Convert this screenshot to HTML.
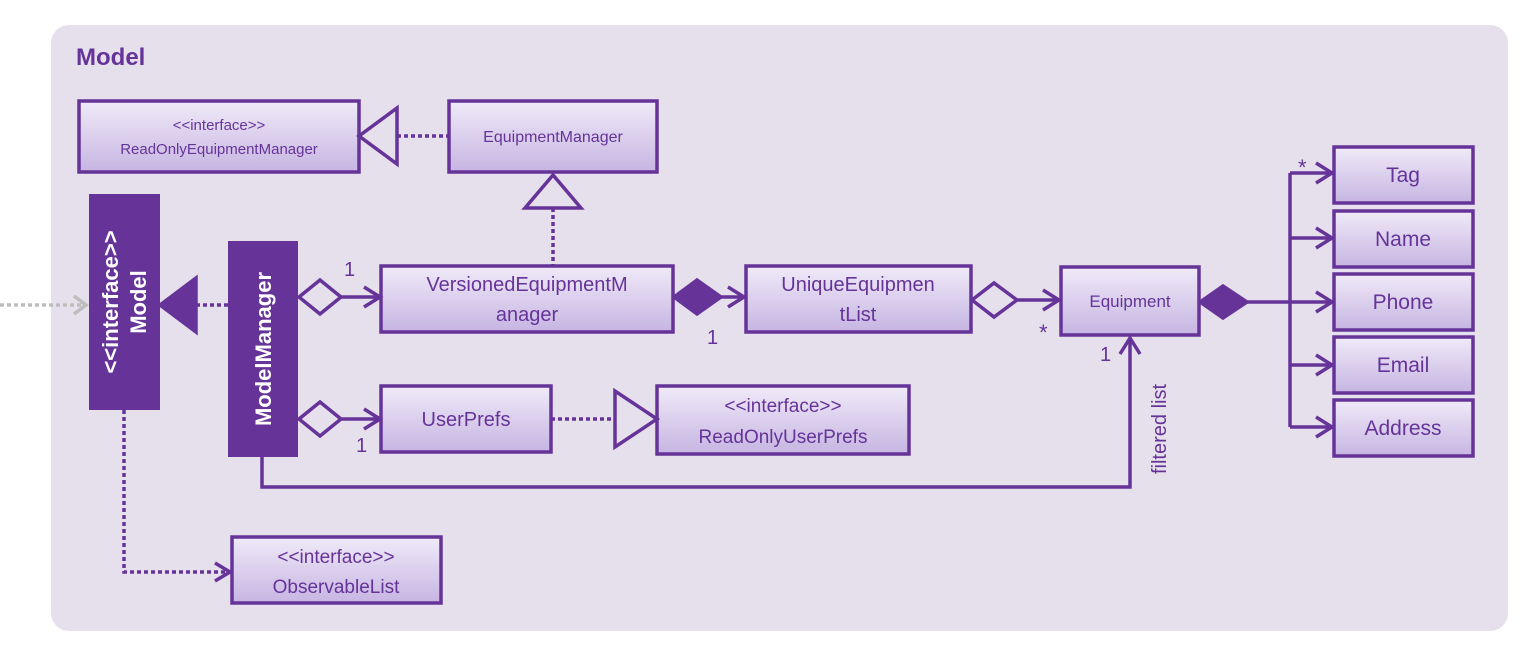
<!DOCTYPE html>
<html><head><meta charset="utf-8"><style>html,body{margin:0;padding:0;background:#fff}svg{display:block}text{font-family:"Liberation Sans",sans-serif;fill:#663399}</style></head><body>
<svg width="1526" height="650" viewBox="0 0 1526 650" xmlns="http://www.w3.org/2000/svg">
<defs><linearGradient id="g" x1="0" y1="0" x2="0" y2="1"><stop offset="0" stop-color="#F0EAF8"/><stop offset="1" stop-color="#C6B5E2"/></linearGradient></defs>
<rect x="51" y="25" width="1457" height="606" rx="18" fill="#E6E0EC"/>
<text x="76" y="65" font-size="24" font-weight="bold">Model</text>
<g stroke="#663399" stroke-width="3.5" fill="url(#g)">
<rect x="79" y="101" width="280" height="71"/>
<rect x="449" y="101" width="208" height="71"/>
<rect x="381" y="266" width="292" height="66"/>
<rect x="746" y="266" width="225" height="66"/>
<rect x="1061" y="267" width="138" height="68"/>
<rect x="1334" y="147" width="139" height="56"/>
<rect x="1334" y="211" width="139" height="56"/>
<rect x="1334" y="274" width="139" height="56"/>
<rect x="1334" y="337" width="139" height="56"/>
<rect x="1334" y="400" width="139" height="56"/>
<rect x="381" y="386" width="170" height="66"/>
<rect x="657" y="386" width="252" height="68"/>
<rect x="232" y="537" width="209" height="66"/>
</g>
<rect x="89" y="194" width="71" height="216" fill="#663399"/>
<rect x="228" y="241" width="70" height="216" fill="#663399"/>
<g stroke="#663399" stroke-width="3.5" fill="none">
<path d="M397 136H449" stroke-dasharray="4 3"/>
<path d="M359 136L397 108V164Z" fill="#E6E0EC"/>
<path d="M553 208V265" stroke-dasharray="4 3"/>
<path d="M553 175L525 208H581Z" fill="#E6E0EC"/>
<path d="M196 305H228" stroke-dasharray="4 3"/>
<path d="M160 305L196 278V332Z" fill="#663399"/>
<path d="M299 297L320 280L341 297L320 314Z" fill="#E6E0EC"/>
<path d="M341 297H379M364 287L380 297L364 307"/>
<path d="M674 297L697 280L721 297L697 314Z" fill="#663399"/>
<path d="M721 297H744M728 287L744 297L728 307"/>
<path d="M972 300L994 283L1017 300L994 317Z" fill="#E6E0EC"/>
<path d="M1017 300H1059M1043 290L1059 300L1043 310"/>
<path d="M1200 302L1223 286L1247 302L1223 318Z" fill="#663399"/>
<path d="M1247 302H1290M1290 173V427M1290 173H1332M1290 238H1332M1290 302H1332M1290 365H1332M1290 427H1332"/>
<path d="M1316 163L1332 173L1316 183M1316 228L1332 238L1316 248M1316 292L1332 302L1316 312M1316 355L1332 365L1316 375M1316 417L1332 427L1316 437"/>
<path d="M299 419L320 402L341 419L320 436Z" fill="#E6E0EC"/>
<path d="M341 419H379M364 409L380 419L364 429"/>
<path d="M551 419H615" stroke-dasharray="4 3"/>
<path d="M657 419L615 391V447Z" fill="#E6E0EC"/>
<path d="M262 457V487H1130V338M1120 354L1130 338L1140 354"/>
<path d="M124 410V572H230" stroke-dasharray="4 3"/>
<path d="M215 563L230 572L215 581"/>
</g>
<g stroke="#BDBDBD" stroke-width="3.5" fill="none"><path d="M0 305H84" stroke-dasharray="4 3"/><path d="M74 296L86 305L74 314"/></g>
<g text-anchor="middle">
<text x="219" y="130" font-size="15">&lt;&lt;interface&gt;&gt;</text>
<text x="219" y="154" font-size="15">ReadOnlyEquipmentManager</text>
<text x="553" y="142" font-size="16">EquipmentManager</text>
<text x="527" y="291" font-size="20">VersionedEquipmentM</text>
<text x="527" y="321" font-size="20">anager</text>
<text x="858" y="291" font-size="20">UniqueEquipmen</text>
<text x="858" y="321" font-size="20">tList</text>
<text x="1130" y="307" font-size="17">Equipment</text>
<text x="1403" y="182" font-size="21">Tag</text>
<text x="1403" y="246" font-size="21">Name</text>
<text x="1403" y="309" font-size="21">Phone</text>
<text x="1403" y="372" font-size="21">Email</text>
<text x="1403" y="435" font-size="21">Address</text>
<text x="466" y="426" font-size="20">UserPrefs</text>
<text x="783" y="412" font-size="19">&lt;&lt;interface&gt;&gt;</text>
<text x="783" y="443" font-size="19">ReadOnlyUserPrefs</text>
<text x="336" y="563" font-size="19">&lt;&lt;interface&gt;&gt;</text>
<text x="336" y="593" font-size="19">ObservableList</text>
<text transform="translate(118,302) rotate(-90)" font-size="22" font-weight="bold" style="fill:#fff">&lt;&lt;interface&gt;&gt;</text>
<text transform="translate(146,302) rotate(-90)" font-size="22" font-weight="bold" style="fill:#fff">Model</text>
<text transform="translate(271,349) rotate(-90)" font-size="22" font-weight="bold" style="fill:#fff">ModelManager</text>
<text transform="translate(1166,429) rotate(-90)" font-size="20">filtered list</text>
</g>
<g font-size="20">
<text x="344" y="276">1</text>
<text x="707" y="344">1</text>
<text x="1039" y="340" font-size="22">*</text>
<text x="1100" y="361">1</text>
<text x="1298" y="175" font-size="22">*</text>
<text x="356" y="452">1</text>
</g>
</svg>
</body></html>
